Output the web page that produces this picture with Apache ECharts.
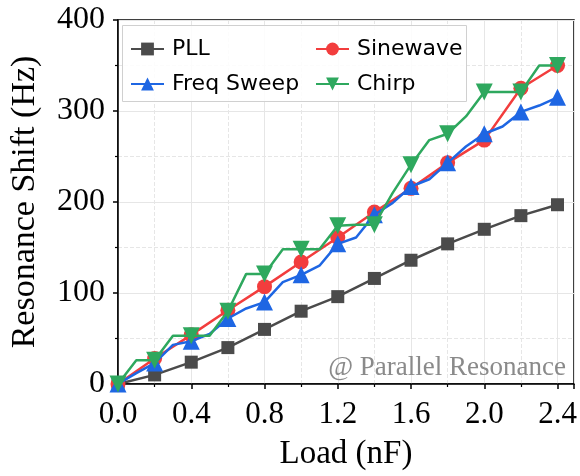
<!DOCTYPE html>
<html>
<head>
<meta charset="utf-8">
<script src="https://cdn.jsdelivr.net/npm/echarts@6/dist/echarts.min.js"></script>
<style>
  html, body { margin: 0; padding: 0; background: #fff; }
  #main { width: 580px; height: 476px; }
</style>
</head>
<body>
<div id="main"></div>
<script>
// load (nF) for the series sampled every 0.2 and every 0.1
var loadCoarse = [0, 0.2, 0.4, 0.6, 0.8, 1.0, 1.2, 1.4, 1.6, 1.8, 2.0, 2.2, 2.4];
var loadFine = [0, 0.1, 0.2, 0.3, 0.4, 0.5, 0.6, 0.7, 0.8, 0.9, 1.0, 1.1, 1.2,
                1.3, 1.4, 1.5, 1.6, 1.7, 1.8, 1.9, 2.0, 2.1, 2.2, 2.3, 2.4];

// resonance shift (Hz)
var pll = [0, 10, 24, 40, 60, 80, 96, 116, 136, 154, 170, 185, 197];
var sinewave = [0, 28, 54, 81, 107, 134, 161, 189, 215, 243, 268, 325, 350];
var freqSweep = [0, 12, 23, 43, 47, 55, 72, 83, 90, 112, 120, 130, 154,
                 161, 186, 199, 217, 225, 243, 261, 275, 283, 299, 306, 315];
var chirp = [0, 26, 26, 53, 53, 53, 80, 121, 121, 148, 148, 148, 174,
             175, 175, 210, 241, 268, 275, 294, 321, 321, 321, 350, 350];

var xTicks = [0, 0.4, 0.8, 1.2, 1.6, 2.0, 2.4];
var yTicks = [0, 100, 200, 300, 400];

function pairs(xs, ys) {
    return ys.map(function (v, i) { return [xs[i], v]; });
}

// only every other point of the 0.1-step series gets a marker
function everyOther(size) {
    return function (val, params) {
        return params.dataIndex % 2 ? 0 : size;
    };
}

var serif = 'Liberation Serif';
var chart = echarts.init(document.getElementById('main'), null, { renderer: 'canvas' });

var option = {
    animation: false,
    backgroundColor: '#ffffff',
    grid: {
        left: 116.5, right: 6, top: 20, bottom: 87,
        show: true, borderColor: '#000', borderWidth: 1.5
    },
    legend: [{
        data: ['PLL', 'Freq Sweep'],
        orient: 'vertical',
        left: 125, top: 32,
        itemWidth: 33, itemHeight: 16, itemGap: 11,
        textStyle: { fontFamily: 'DejaVu Sans', fontSize: 22, color: '#000', lineHeight: 24, padding: [0, 0, 0, 3] }
    }, {
        data: ['Sinewave', 'Chirp'],
        orient: 'vertical',
        left: 310, top: 32,
        itemWidth: 33, itemHeight: 16, itemGap: 11,
        textStyle: { fontFamily: 'DejaVu Sans', fontSize: 22, color: '#000', lineHeight: 24, padding: [0, 0, 0, 3] }
    }],
    graphic: [{
        type: 'rect',
        z: 1,
        shape: { x: 122.5, y: 25.5, width: 344, height: 76 },
        style: { fill: 'rgba(255,255,255,0.85)', stroke: '#d0d0d0', lineWidth: 1 }
    }, {
        type: 'text',
        z: 5,
        x: 566, y: 368,
        style: {
            text: '@ Parallel Resonance',
            fontFamily: serif, fontSize: 27, fill: '#8a8a8a',
            textAlign: 'right', textVerticalAlign: 'middle'
        }
    }],
    xAxis: {
        type: 'value',
        min: 0, max: 2.49, interval: 0.4,
        name: 'Load (nF)',
        nameLocation: 'middle',
        nameGap: 54,
        nameTextStyle: { fontFamily: serif, fontSize: 33, color: '#000' },
        axisLine: { lineStyle: { color: '#000', width: 1.5 } },
        axisTick: { show: true, inside: false, length: 5, lineStyle: { color: '#000', width: 1.5 } },
        minorTick: { show: true, splitNumber: 2, length: 3, lineStyle: { color: '#000', width: 1.2 } },
        axisLabel: {
            fontFamily: serif, fontSize: 31, color: '#000', margin: 15, showMaxLabel: false,
            formatter: function (v) {
                return xTicks.indexOf(Math.round(v * 10) / 10) >= 0 ? v.toFixed(1) : '';
            }
        },
        splitLine: { show: true, lineStyle: { color: '#e6e6e6', width: 1 } },
        minorSplitLine: { show: true, lineStyle: { color: '#e6e6e6', width: 1, type: 'dashed' } }
    },
    yAxis: {
        type: 'value',
        min: 0, max: 400, interval: 100,
        name: 'Resonance Shift (Hz)',
        nameLocation: 'middle',
        nameGap: 76,
        nameTextStyle: { fontFamily: serif, fontSize: 34, color: '#000' },
        axisLine: { lineStyle: { color: '#000', width: 1.5 } },
        axisTick: { show: true, inside: false, length: 5, lineStyle: { color: '#000', width: 1.5 } },
        minorTick: { show: true, splitNumber: 2, length: 3, lineStyle: { color: '#000', width: 1.2 } },
        axisLabel: {
            fontFamily: serif, fontSize: 32, color: '#000', margin: 13,
            formatter: function (v) { return yTicks.indexOf(v) >= 0 ? String(v) : ''; }
        },
        splitLine: { show: true, lineStyle: { color: '#e6e6e6', width: 1 } },
        minorSplitLine: { show: true, lineStyle: { color: '#e6e6e6', width: 1, type: 'dashed' } }
    },
    series: [{
        name: 'PLL',
        type: 'line',
        data: pairs(loadCoarse, pll),
        symbol: 'rect', symbolSize: 13,
        color: '#4b4b4b',
        lineStyle: { width: 2.5 },
        z: 3
    }, {
        name: 'Sinewave',
        type: 'line',
        data: pairs(loadCoarse, sinewave),
        symbol: 'circle', symbolSize: 15,
        color: '#f23d3d',
        lineStyle: { width: 2.5 },
        z: 4
    }, {
        name: 'Freq Sweep',
        type: 'line',
        data: pairs(loadFine, freqSweep),
        symbol: 'triangle', symbolSize: everyOther(17),
        color: '#1e66e3',
        lineStyle: { width: 2.5 },
        z: 5
    }, {
        name: 'Chirp',
        type: 'line',
        data: pairs(loadFine, chirp),
        symbol: 'triangle', symbolSize: everyOther(17), symbolRotate: 180,
        color: '#2ea85e',
        lineStyle: { width: 2.5 },
        z: 6
    }]
};

chart.setOption(option);
</script>
</body>
</html>
